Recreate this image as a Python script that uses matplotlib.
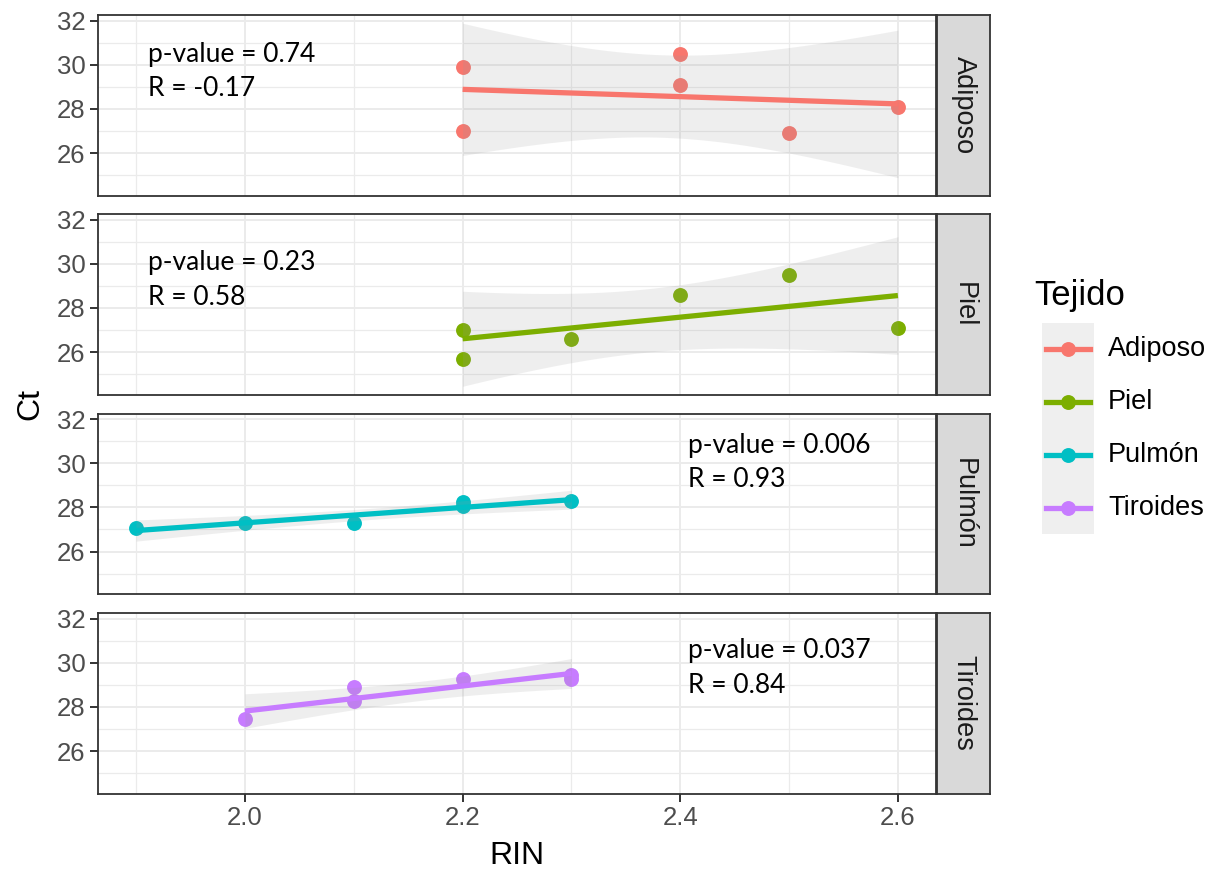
import numpy as np
import matplotlib.pyplot as plt
from matplotlib.patches import Rectangle

# Datos (RIN vs Ct por tejido)
tejidos = ['Adiposo', 'Piel', 'Pulmón', 'Tiroides']
colores = ['#F8766D', '#7CAE00', '#00BFC4', '#C77CFF']

rin_adiposo = [2.2, 2.2, 2.4, 2.4, 2.5, 2.6]
ct_adiposo = [29.9, 27.0, 30.5, 29.1, 26.9, 28.1]
rin_piel = [2.2, 2.2, 2.3, 2.4, 2.5, 2.6]
ct_piel = [27.0, 25.7, 26.6, 28.6, 29.5, 27.1]
rin_pulmon = [1.9, 2.0, 2.1, 2.2, 2.2, 2.3]
ct_pulmon = [27.05, 27.3, 27.3, 28.25, 28.05, 28.3]
rin_tiroides = [2.0, 2.1, 2.1, 2.2, 2.3, 2.3]
ct_tiroides = [27.45, 28.9, 28.25, 29.25, 29.45, 29.25]

p_values = ['0.74', '0.23', '0.006', '0.037']
r_values = ['-0.17', '0.58', '0.93', '0.84']

rin = [rin_adiposo, rin_piel, rin_pulmon, rin_tiroides]
ct = [ct_adiposo, ct_piel, ct_pulmon, ct_tiroides]

# t de Student (95%, dos colas) segun grados de libertad
T95 = {3: 3.182, 4: 2.776, 5: 2.571, 6: 2.447}


def ajuste(x, y, xs):
    x = np.asarray(x)
    y = np.asarray(y)
    n = len(x)
    b, a = np.polyfit(x, y, 1)
    res = y - (a + b * x)
    s = np.sqrt(np.sum(res ** 2) / (n - 2))
    sxx = np.sum((x - x.mean()) ** 2)
    se = s * np.sqrt(1 / n + (xs - x.mean()) ** 2 / sxx)
    fit = a + b * xs
    t = T95[n - 2]
    return fit, fit - t * se, fit + t * se


fits = []
for x, y in zip(rin, ct):
    xs = np.linspace(min(x), max(x), 80)
    fits.append((xs,) + ajuste(x, y, xs))

# limites como ggplot (expansion 5%)
all_x = np.concatenate([np.asarray(x) for x in rin])
lo = min(f[2].min() for f in fits)
hi = max(f[3].max() for f in fits)
xlim = (all_x.min() - 0.05 * np.ptp(all_x), all_x.max() + 0.05 * np.ptp(all_x))
ylim = (lo - 0.05 * (hi - lo), hi + 0.05 * (hi - lo))

W, H = 1212, 874
fig = plt.figure(figsize=(W / 100, H / 100), dpi=100)
plt.rcParams['font.family'] = ['Liberation Sans', 'DejaVu Sans']

left, right = 98, 936
tops = [15, 214, 413.5, 613]
ph = 180.5
txt_pos = [(1.911, 30.48, 28.93), (1.911, 30.07, 28.48),
           (2.407, 30.8, 29.27), (2.407, 30.56, 28.97)]

for i in range(4):
    ax = fig.add_axes([left / W, 1 - (tops[i] + ph) / H, (right - left) / W, ph / H])
    xs, fit, low, up = fits[i]
    ax.scatter(rin[i], ct[i], s=115, color=colores[i], zorder=2, linewidths=0)
    ax.fill_between(xs, low, up, color='#999999', alpha=0.16, linewidth=0, zorder=3)
    ax.plot(xs, fit, color=colores[i], lw=3.8, zorder=4, solid_capstyle='butt')

    ax.set_xlim(xlim)
    ax.set_ylim(ylim)
    ax.set_yticks([26, 28, 30, 32])
    ax.set_yticks([25, 27, 29, 31], minor=True)
    ax.set_xticks([2.0, 2.2, 2.4, 2.6])
    ax.set_xticks([1.9, 2.1, 2.3, 2.5], minor=True)
    ax.grid(which='major', color='#EBEBEB', lw=1.4)
    ax.grid(which='minor', color='#EBEBEB', lw=0.9)
    ax.set_axisbelow(True)
    for sp in ax.spines.values():
        sp.set_color('#333333')
        sp.set_linewidth(1.3)
    ax.tick_params(which='major', length=6, width=1.4, color='#333333',
                   labelsize=18.5, labelcolor='#4D4D4D', pad=3)
    ax.tick_params(which='minor', length=0)
    ax.set_yticklabels(['26', '28', '30', '32'])
    if i < 3:
        ax.tick_params(axis='x', which='major', length=0, labelbottom=False)
    else:
        ax.set_xticklabels(['2.0', '2.2', '2.4', '2.6'])

    tx, ty1, ty2 = txt_pos[i]
    ax.text(tx, ty1, 'p-value = ' + p_values[i], fontsize=19, va='center',
            ha='left', family=['Lato', 'DejaVu Sans'], zorder=5)
    ax.text(tx, ty2, 'R = ' + r_values[i], fontsize=19, va='center',
            ha='left', family=['Lato', 'DejaVu Sans'], zorder=5)

    # strip de faceta
    sx = fig.add_axes([937 / W, 1 - (tops[i] + ph) / H, 53 / W, ph / H])
    sx.set_facecolor('#D9D9D9')
    sx.set_xticks([])
    sx.set_yticks([])
    for sp in sx.spines.values():
        sp.set_color('#333333')
        sp.set_linewidth(1.3)
    sx.text(0.5, 0.5, tejidos[i], rotation=270, ha='center', va='center',
            fontsize=19.5, color='#1A1A1A', transform=sx.transAxes)

fig.text(30 / W, 1 - 404 / H, 'Ct', rotation=90, ha='center', va='center', fontsize=23)
fig.text(517 / W, 1 - 856 / H, 'RIN', ha='center', va='center', fontsize=23)

# leyenda manual
fig.text(1034 / W, 1 - 296 / H, 'Tejido', ha='left', va='center', fontsize=25)
lg = fig.add_axes([1042 / W, 1 - 534 / H, 52 / W, 211 / H])
lg.set_xlim(0, 1)
lg.set_ylim(534, 323)
lg.axis('off')
lg.add_patch(Rectangle((0, 323), 1, 211, color='#EFEFEF', lw=0))
key_y = [349, 402, 455, 508]
for j in range(4):
    lg.plot([0.08, 0.92], [key_y[j], key_y[j]], color=colores[j], lw=3.8)
    lg.scatter([0.5], [key_y[j]], s=115, color=colores[j], linewidths=0, zorder=3)
    fig.text(1108 / W, 1 - key_y[j] / H, tejidos[j], ha='left', va='center', fontsize=19.5)

fig.savefig('out.png', dpi=100)
